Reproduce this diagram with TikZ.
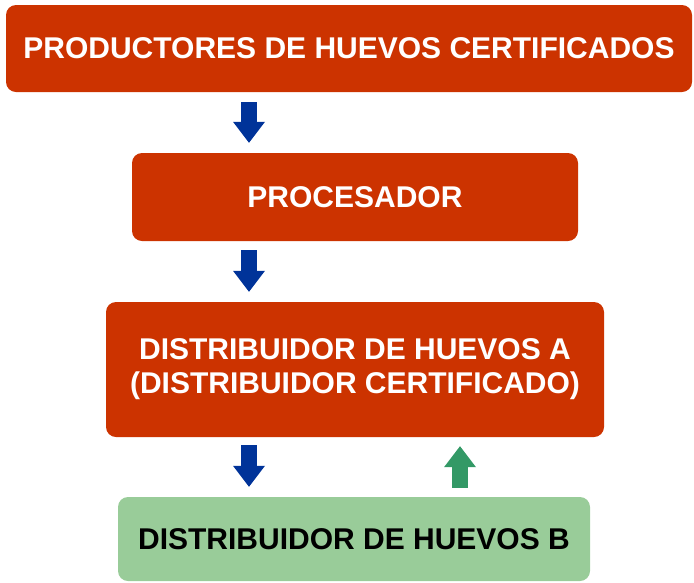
\documentclass[tikz,border=0pt]{standalone}
\usepackage{fontspec}
\setmainfont{Liberation Sans}
\usetikzlibrary{arrows.meta}
\definecolor{rojo}{RGB}{204,51,0}
\definecolor{azul}{RGB}{0,51,153}
\definecolor{verde}{RGB}{51,153,102}
\definecolor{verdeclaro}{RGB}{153,204,153}
\begin{document}
\begin{tikzpicture}[x=1pt,y=-1pt,line join=round,
  caja/.style={rectangle,rounded corners=10pt,fill=rojo,text=white,inner sep=0pt,align=center,
    font=\fontsize{30}{34}\selectfont\bfseries},
  cajab/.style={caja,fill=verdeclaro,text=black},
  bajada/.style={draw=azul,line width=16pt,-{Triangle[length=21pt,width=32pt,line width=0pt]}},
  subida/.style={bajada,draw=verde}]
\useasboundingbox (0,0) rectangle (694,582);
\clip (0,0) rectangle (694,582);
\coordinate (ejea) at (249,0);
\coordinate (ejeb) at (460,0);
\node[caja,minimum width=686,minimum height=87] (prod) at (349,48.5) {PRODUCTORES DE HUEVOS CERTIFICADOS};
\node[caja,minimum width=446,minimum height=88] (proc) at (355,197) {PROCESADOR};
\node[caja,minimum width=498,minimum height=135] (dista) at (355,369.5) {DISTRIBUIDOR DE HUEVOS A\\(DISTRIBUIDOR CERTIFICADO)};
\node[cajab,minimum width=472,minimum height=84] (distb) at (354,539) {DISTRIBUIDOR DE HUEVOS B};
\draw[bajada] ([yshift=-10pt]prod.south -| ejea) -- ([yshift=10pt]proc.north -| ejea);
\draw[bajada] ([yshift=-9pt]proc.south -| ejea) -- ([yshift=10pt]dista.north -| ejea);
\draw[bajada] ([yshift=-8pt]dista.south -| ejea) -- ([yshift=10pt]distb.north -| ejea);
\draw[subida] ([yshift=9pt]distb.north -| ejeb) -- ([yshift=-9pt]dista.south -| ejeb);
\end{tikzpicture}
\end{document}
